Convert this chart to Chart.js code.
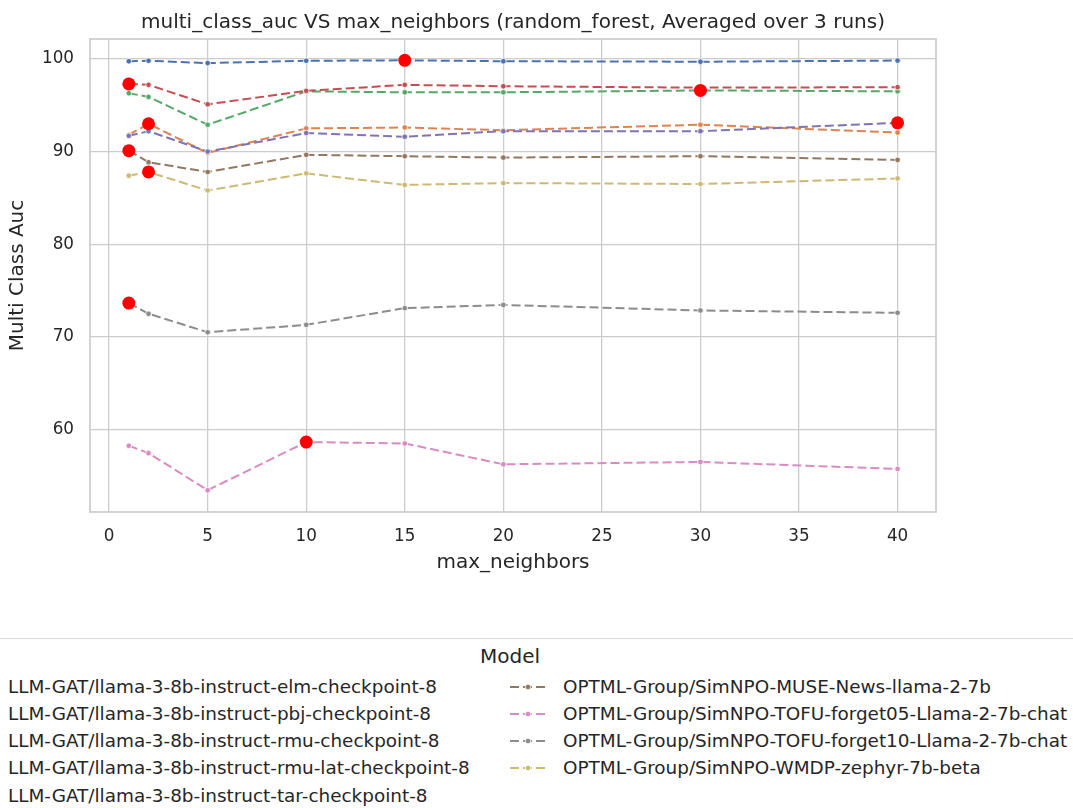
<!DOCTYPE html>
<html>
<head>
<meta charset="utf-8">
<script src="https://cdn.jsdelivr.net/npm/chart.js@4"></script>
<style>
  body { margin: 0; background: #fff; font-family: "DejaVu Sans", sans-serif; color: #262626; }
  #wrap { position: relative; width: 1073px; height: 808px; overflow: hidden; }
  #chartBox { position: absolute; left: 0; top: 0; width: 1073px; height: 620px; }
  #legend { position: absolute; left: -2px; top: 638px; width: 1077px; height: 200px; border-top: 1.5px solid #dadada; }
  .leg { position: absolute; font-size: 18.4px; line-height: 20px; white-space: nowrap; }
  .leg svg { position: absolute; left: -53px; top: 5px; }
</style>
</head>
<body>
<div id="wrap">
  <div id="chartBox"><canvas id="myChart"></canvas></div>
  <div id="legend"></div>
</div>
<script>
'use strict';

// data
let maxNeighbors = [1, 2, 5, 10, 15, 20, 30, 40];
let xTicks = [0, 5, 10, 15, 20, 25, 30, 35, 40];
let yTicks = [60, 70, 80, 90, 100];

let modelNames = [
  'LLM-GAT/llama-3-8b-instruct-elm-checkpoint-8',
  'LLM-GAT/llama-3-8b-instruct-pbj-checkpoint-8',
  'LLM-GAT/llama-3-8b-instruct-rmu-checkpoint-8',
  'LLM-GAT/llama-3-8b-instruct-rmu-lat-checkpoint-8',
  'LLM-GAT/llama-3-8b-instruct-tar-checkpoint-8',
  'OPTML-Group/SimNPO-MUSE-News-llama-2-7b',
  'OPTML-Group/SimNPO-TOFU-forget05-Llama-2-7b-chat',
  'OPTML-Group/SimNPO-TOFU-forget10-Llama-2-7b-chat',
  'OPTML-Group/SimNPO-WMDP-zephyr-7b-beta'
];

let elmAuc = [99.75, 99.8, 99.55, 99.8, 99.85, 99.75, 99.7, 99.82];
let pbjAuc = [91.8, 93.0, 89.85, 92.5, 92.6, 92.3, 92.9, 92.05];
let rmuAuc = [96.3, 95.9, 92.9, 96.5, 96.4, 96.4, 96.6, 96.5];
let rmuLatAuc = [97.3, 97.2, 95.1, 96.55, 97.2, 97.05, 96.9, 96.95];
let tarAuc = [91.7, 92.2, 90.0, 92.0, 91.6, 92.2, 92.2, 93.1];
let museAuc = [90.1, 88.85, 87.8, 89.65, 89.5, 89.35, 89.5, 89.1];
let forget05Auc = [58.25, 57.45, 53.45, 58.65, 58.5, 56.25, 56.5, 55.75];
let forget10Auc = [73.65, 72.5, 70.5, 71.3, 73.1, 73.45, 72.85, 72.6];
let wmdpAuc = [87.4, 87.8, 85.8, 87.65, 86.4, 86.6, 86.5, 87.1];

let allSeries = [elmAuc, pbjAuc, rmuAuc, rmuLatAuc, tarAuc, museAuc, forget05Auc, forget10Auc, wmdpAuc];

// seaborn "deep" palette
let colors = ['#4C72B0', '#DD8452', '#55A868', '#C44E52', '#8172B3', '#937860', '#DA8BC3', '#8C8C8C', '#CCB974'];

let textColor = '#262626';
let gridColor = '#cccccc';

// build datasets
let datasets = [];

// red dots on each model's best value
let bestPoints = [];
for (let i = 0; i < allSeries.length; i++) {
  let s = allSeries[i];
  let best = s.indexOf(Math.max(...s));
  bestPoints.push({ x: maxNeighbors[best], y: s[best] });
}
datasets.push({
  label: 'best',
  data: bestPoints,
  showLine: false,
  pointRadius: 6.5,
  pointBackgroundColor: '#ff0000',
  pointBorderColor: '#ff0000',
  pointBorderWidth: 0,
  order: 0
});

for (let i = 0; i < allSeries.length; i++) {
  datasets.push({
    label: modelNames[i],
    data: maxNeighbors.map((x, j) => ({ x: x, y: allSeries[i][j] })),
    showLine: true,
    borderColor: colors[i],
    backgroundColor: colors[i],
    borderWidth: 2,
    borderDash: [9, 4],
    pointRadius: 2.8,
    pointBackgroundColor: colors[i],
    pointBorderColor: '#ffffff',
    pointBorderWidth: 0.8,
    tension: 0,
    order: 20 - i
  });
}

// box round the plot area, like the seaborn whitegrid spines
let framePlugin = {
  id: 'frame',
  afterDraw(chart) {
    let a = chart.chartArea;
    let ctx = chart.ctx;
    ctx.save();
    ctx.strokeStyle = gridColor;
    ctx.lineWidth = 1.7;
    ctx.strokeRect(a.left, a.top, a.right - a.left, a.bottom - a.top);
    ctx.restore();
  }
};

let chartObject = {
  type: 'scatter',
  data: { datasets: datasets },
  plugins: [framePlugin],
  options: {
    responsive: true,
    maintainAspectRatio: false,
    animation: false,
    layout: { padding: { left: 0, right: 137, top: 0, bottom: 0 } },
    plugins: {
      legend: { display: false },
      tooltip: { enabled: false },
      title: {
        display: true,
        text: 'multi_class_auc VS max_neighbors (random_forest, Averaged over 3 runs)',
        color: textColor,
        fullSize: false,
        font: { family: 'DejaVu Sans', size: 20, weight: 'normal' },
        padding: { top: 11, bottom: 4 }
      }
    },
    scales: {
      x: {
        type: 'linear',
        min: -0.97,
        max: 41.95,
        afterBuildTicks: (scale) => { scale.ticks = xTicks.map(v => ({ value: v })); },
        afterFit: (scale) => { scale.height = 108; },
        grid: { color: gridColor, lineWidth: 1.3, drawTicks: false },
        border: { display: false },
        ticks: {
          color: textColor,
          padding: 15,
          font: { family: 'DejaVu Sans', size: 16.8 }
        },
        title: {
          display: true,
          text: 'max_neighbors',
          color: textColor,
          font: { family: 'DejaVu Sans', size: 20 },
          padding: { top: 4, bottom: 45 }
        }
      },
      y: {
        type: 'linear',
        min: 51.1,
        max: 102.15,
        afterBuildTicks: (scale) => { scale.ticks = yTicks.map(v => ({ value: v })); },
        afterFit: (scale) => { scale.width = 90; },
        grid: { color: gridColor, lineWidth: 1.3, drawTicks: false },
        border: { display: false },
        ticks: {
          color: textColor,
          padding: 16,
          font: { family: 'DejaVu Sans', size: 16.8 }
        },
        title: {
          display: true,
          text: 'Multi Class Auc',
          color: textColor,
          font: { family: 'DejaVu Sans', size: 20 },
          padding: { top: 6, bottom: 4 }
        }
      }
    }
  }
};

let ctx = document.getElementById('myChart').getContext('2d');
let myChart = new Chart(ctx, chartObject);

// legend below the figure (left column is cut off in the original)
function renderLegend() {
  let box = document.getElementById('legend');
  let title = document.createElement('div');
  title.className = 'leg';
  title.textContent = 'Model';
  title.style.fontSize = '20px';
  title.style.left = '512px';
  title.style.top = '7px';
  title.style.transform = 'translateX(-50%)';
  box.appendChild(title);

  let rowTops = [38, 65, 92, 119, 147];
  for (let i = 0; i < modelNames.length; i++) {
    let item = document.createElement('div');
    item.className = 'leg';
    let col = i < 5 ? 0 : 1;
    let row = i < 5 ? i : i - 5;
    item.style.left = (col === 0 ? 10 : 565) + 'px';
    item.style.top = rowTops[row] + 'px';
    if (col === 1) {
      let svg = '<svg width="36" height="10"><line x1="0" y1="5" x2="36" y2="5" stroke="' + colors[i] +
        '" stroke-width="2" stroke-dasharray="9 4"/><circle cx="18" cy="5" r="2.8" fill="' + colors[i] +
        '" stroke="#fff" stroke-width="0.8"/></svg>';
      item.innerHTML = svg;
    }
    item.appendChild(document.createTextNode(modelNames[i]));
    box.appendChild(item);
  }
}
renderLegend();
</script>
</body>
</html>
